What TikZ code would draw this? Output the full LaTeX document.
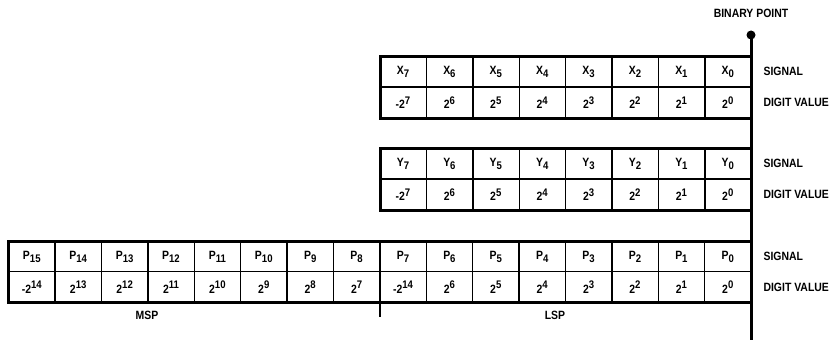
\documentclass[tikz,border=0pt]{standalone}
\usepackage{fontspec}
\setmainfont{Liberation Sans}[FakeStretch=0.87]
\newcommand\lo[1]{\raisebox{-3pt}{\fontsize{11}{11}\selectfont#1}}
\newcommand\hi[1]{\raisebox{4.5pt}{\fontsize{11}{11}\selectfont#1}}

\begin{document}
\begin{tikzpicture}[x=1pt,y=1pt,font=\bfseries\fontsize{12}{12}\selectfont,
  outer/.style={line width=3pt},
  inner/.style={line width=1.4pt}]
\useasboundingbox (0,0) rectangle (836,341);
% binary point
\draw[outer] (751,306) -- (751,1);
\fill (751,306) circle (4.5);
\node (bp) at (751,328) {BINARY POINT};
% X register
\draw[inner] (380,254) -- (751,254);
\foreach \i in {1,...,7} \draw[inner] ({380+46.4*\i},285) -- ({380+46.4*\i},223);
\draw[outer] (751,285) -- (380,285) -- (380,223) -- (751,223);
\foreach \n/\v in {0/2\hi{0},1/2\hi{1},2/2\hi{2},3/2\hi{3},4/2\hi{4},5/2\hi{5},6/2\hi{6},7/-2\hi{7}} {
  \node (x\n) at ({751-46.4*(\n+0.5)},269.5) {X\lo{\n}};
  \node (xv\n) at ({751-46.4*(\n+0.5)},238.5) {\v};
}
\node[anchor=west] (xsig) at (760,269.5) {SIGNAL};
\node[anchor=west] (xdig) at (760,238.5) {DIGIT VALUE};
% Y register
\draw[inner] (380,162) -- (751,162);
\foreach \i in {1,...,7} \draw[inner] ({380+46.4*\i},193) -- ({380+46.4*\i},131);
\draw[outer] (751,193) -- (380,193) -- (380,131) -- (751,131);
\foreach \n/\v in {0/2\hi{0},1/2\hi{1},2/2\hi{2},3/2\hi{3},4/2\hi{4},5/2\hi{5},6/2\hi{6},7/-2\hi{7}} {
  \node (y\n) at ({751-46.4*(\n+0.5)},177.5) {Y\lo{\n}};
  \node (yv\n) at ({751-46.4*(\n+0.5)},146.5) {\v};
}
\node[anchor=west] (ysig) at (760,177.5) {SIGNAL};
\node[anchor=west] (ydig) at (760,146.5) {DIGIT VALUE};
% P register
\draw[inner] (8.6,69.5) -- (751,69.5);
\foreach \i in {1,...,15} \draw[inner] ({8.6+46.4*\i},100) -- ({8.6+46.4*\i},39);
\draw[outer] (751,100) -- (8.6,100) -- (8.6,39) -- (751,39);
\foreach \n/\v in {0/2\hi{0},1/2\hi{1},2/2\hi{2},3/2\hi{3},4/2\hi{4},5/2\hi{5},6/2\hi{6},7/-2\hi{14},
  8/2\hi{7},9/2\hi{8},10/2\hi{9},11/2\hi{10},12/2\hi{11},13/2\hi{12},14/2\hi{13},15/-2\hi{14}} {
  \node (p\n) at ({751-46.4*(\n+0.5)},84.5) {P\lo{\n}};
  \node (pv\n) at ({751-46.4*(\n+0.5)},54) {\v};
}
\node[anchor=west] (psig) at (760,84.5) {SIGNAL};
\node[anchor=west] (pdig) at (760,54) {DIGIT VALUE};
% MSP / LSP
\draw[inner] (380,39) -- (380,24);
\node (msp) at (147,26) {MSP};
\node (lsp) at (555,26) {LSP};
\end{tikzpicture}
\end{document}
